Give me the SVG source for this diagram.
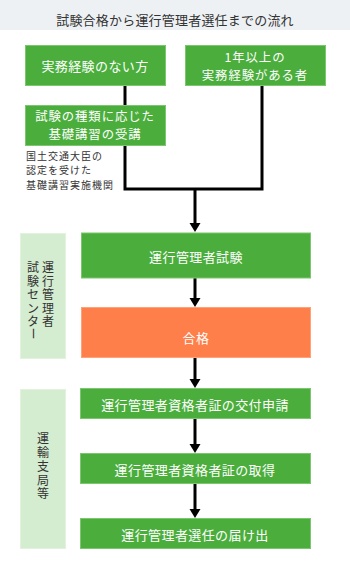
<svg xmlns="http://www.w3.org/2000/svg" width="350" height="579" viewBox="0 0 350 579">
<style>
text{font-family:"Noto Sans CJK JP","Noto Sans",sans-serif;}
.g{fill:#4bae3c;stroke:#7cc66f;stroke-width:1;}
.o{fill:#ff7f4b;stroke:#ffa27a;stroke-width:1;}
.side{fill:#d4ecd0;stroke:#e2f2df;stroke-width:1;}
.bt{fill:#fff;font-size:13px;text-anchor:middle;dominant-baseline:central;letter-spacing:0.4px;}
.bt2{fill:#fff;font-size:12.4px;text-anchor:middle;dominant-baseline:central;letter-spacing:0.9px;}
.st{fill:#333;font-size:12px;text-anchor:middle;dominant-baseline:central;}
.note{fill:#333;font-size:10px;dominant-baseline:central;letter-spacing:1px;}
.c{stroke:#000;stroke-width:3;fill:none;}
</style>
<defs>
<marker id="ah" markerUnits="userSpaceOnUse" markerWidth="12" markerHeight="12" refX="0" refY="6" orient="auto" viewBox="0 0 12 12">
<path d="M0,0.5 L9,6 L0,11.5 Z" fill="#000"/>
</marker>
</defs>
<rect x="0" y="0" width="350" height="30" fill="#eef1f4"/>
<text x="175" y="19" style="fill:#333;font-size:13px;text-anchor:middle;dominant-baseline:central;letter-spacing:0.2px">試験合格から運行管理者選任までの流れ</text>

<g id="connectors">
<path class="c" d="M125,85 V105"/>
<path class="c" d="M125,145 V189 H262 V85"/>
<path class="c" d="M195,189 V223" marker-end="url(#ah)"/>
<path class="c" d="M195,278 V298" marker-end="url(#ah)"/>
<path class="c" d="M195,358 V379" marker-end="url(#ah)"/>
<path class="c" d="M195,418 V444" marker-end="url(#ah)"/>
<path class="c" d="M195,484 V509" marker-end="url(#ah)"/>
</g>

<g id="n-no-exp">
<rect class="g" x="25.5" y="45.5" width="140" height="40"/>
<text class="bt" x="95" y="65">実務経験のない方</text>
</g>
<g id="n-exp">
<rect class="g" x="185.5" y="45.5" width="140" height="40"/>
<text class="bt2"><tspan x="255" y="56.5">1年以上の</tspan><tspan x="255" y="74.8">実務経験がある者</tspan></text>
</g>
<g id="n-course">
<rect class="g" x="25.5" y="105.5" width="140" height="40"/>
<text class="bt2"><tspan x="95" y="116">試験の種類に応じた</tspan><tspan x="95" y="134.3">基礎講習の受講</tspan></text>
</g>
<g id="n-note">
<text class="note"><tspan x="26" y="154.5">国土交通大臣の</tspan><tspan x="26" y="169.2">認定を受けた</tspan><tspan x="26" y="183.9">基礎講習実施機関</tspan></text>
</g>

<g id="side-center">
<rect class="side" x="20.5" y="233.5" width="45" height="125"/>
<text class="st"><tspan x="48" y="266">運</tspan><tspan x="48" y="279.5">行</tspan><tspan x="48" y="293">管</tspan><tspan x="48" y="306.5">理</tspan><tspan x="48" y="320">者</tspan></text>
<text class="st"><tspan x="33" y="266">試</tspan><tspan x="33" y="279.5">験</tspan><tspan x="33" y="293">セ</tspan><tspan x="33" y="306.5">ン</tspan><tspan x="33" y="320">タ</tspan></text>
<text class="st" x="33" y="333.5" transform="rotate(90 33 333.5)">ー</text>
</g>
<g id="side-bureau">
<rect class="side" x="20.5" y="389.5" width="45" height="159"/>
<text class="st"><tspan x="43" y="437">運</tspan><tspan x="43" y="451">輸</tspan><tspan x="43" y="465">支</tspan><tspan x="43" y="478.5">局</tspan><tspan x="43" y="492">等</tspan></text>
</g>

<g id="n-exam">
<rect class="g" x="81.5" y="233" width="229" height="45"/>
<text class="bt" x="196" y="256">運行管理者試験</text>
</g>
<g id="n-pass">
<rect class="o" x="81.5" y="307.5" width="229" height="50"/>
<text class="bt" x="196" y="337">合格</text>
</g>
<g id="n-apply">
<rect class="g" x="80.5" y="388.5" width="230" height="30"/>
<text class="bt" x="195" y="404">運行管理者資格者証の交付申請</text>
</g>
<g id="n-obtain">
<rect class="g" x="80.5" y="453.5" width="230" height="30"/>
<text class="bt" x="195" y="469">運行管理者資格者証の取得</text>
</g>
<g id="n-notify">
<rect class="g" x="80.5" y="518.5" width="230" height="30"/>
<text class="bt" x="195" y="534">運行管理者選任の届け出</text>
</g>
</svg>
